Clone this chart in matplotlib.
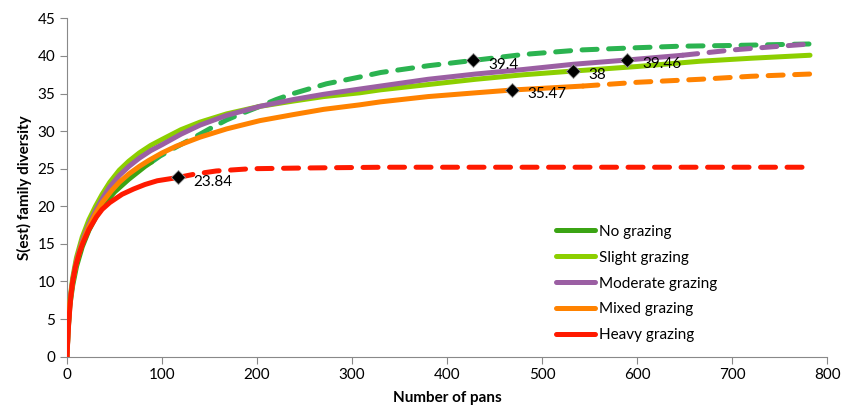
import matplotlib
matplotlib.use("Agg")
import matplotlib.pyplot as plt

plt.rcParams['font.family'] = ['Lato', 'DejaVu Sans']

# No grazing: observed (solid) and extrapolated (dashed)
no_x = [0, 1, 3, 6, 10, 16, 23, 30, 40, 50, 65, 82, 89]
no_y = [0, 3.1, 6.8, 9.5, 12.0, 14.6, 16.8, 18.5, 20.4, 21.9, 23.6, 25.3, 25.9]
no_ext_x = [89, 98, 115, 133, 150, 168, 185, 203, 220, 238, 273, 308, 330, 380, 427, 480, 540, 600, 645, 700, 782]
no_ext_y = [25.9, 26.7, 27.9, 29.1, 30.3, 31.5, 32.4, 33.3, 34.2, 35.0, 36.3, 37.2, 37.8, 38.7, 39.4, 40.2, 40.8, 41.1, 41.3, 41.4, 41.6]

# Slight grazing
sl_x = [0, 1, 3, 6, 10, 16, 23, 30, 37, 45, 55, 65, 76, 88, 100, 120, 140, 168, 203, 238, 270, 308, 330,
        380, 430, 480, 533, 600, 666, 720, 782]
sl_y = [0, 3.5, 7.5, 10.5, 13.2, 15.9, 18.2, 20.0, 21.6, 23.2, 24.8, 26.0, 27.1, 28.1, 28.9, 30.2, 31.2, 32.3,
        33.3, 34.0, 34.6, 35.1, 35.5, 36.2, 36.9, 37.5, 38.0, 38.6, 39.3, 39.7, 40.1]

# Moderate grazing
mo_x = [0, 1, 3, 6, 10, 16, 23, 30, 37, 45, 55, 65, 76, 88, 100, 120, 140, 168, 203, 238, 270, 308, 330,
        380, 430, 480, 533, 589, 648]
mo_y = [0, 3.3, 7.2, 10.2, 12.8, 15.4, 17.6, 19.4, 21.0, 22.6, 24.1, 25.3, 26.4, 27.4, 28.2, 29.6, 30.8, 32.1,
        33.3, 34.2, 34.9, 35.6, 36.0, 36.9, 37.6, 38.2, 38.9, 39.46, 40.1]
mo_ext_x = [648, 700, 740, 782]
mo_ext_y = [40.1, 40.8, 41.2, 41.6]

# Mixed grazing
mi_x = [0, 1, 3, 6, 10, 16, 23, 30, 37, 47, 55, 65, 76, 86, 100, 115, 140, 168, 203, 238, 270, 308, 330,
        380, 430, 468, 543]
mi_y = [0, 3.3, 7.2, 10.0, 12.6, 15.1, 17.3, 19.0, 20.5, 22.1, 23.2, 24.3, 25.3, 26.1, 27.1, 28.0, 29.2, 30.3,
        31.4, 32.2, 32.9, 33.5, 33.9, 34.6, 35.1, 35.47, 36.0]
mi_ext_x = [543, 600, 666, 720, 782]
mi_ext_y = [36.0, 36.5, 36.9, 37.3, 37.6]

# Heavy grazing
he_x = [0, 1, 2, 4, 6, 9, 13, 17, 23, 31, 37, 45, 58, 70, 82, 95, 117]
he_y = [0, 2.8, 4.9, 8.0, 10.0, 12.0, 13.8, 15.2, 16.9, 18.6, 19.6, 20.5, 21.6, 22.3, 22.9, 23.4, 23.84]
he_ext_x = [117, 135, 157, 193, 250, 333, 450, 600, 782]
he_ext_y = [23.84, 24.3, 24.7, 25.0, 25.1, 25.2, 25.2, 25.2, 25.2]

# labelled points
mark_x = [427, 533, 589, 468, 117]
mark_y = [39.4, 38, 39.46, 35.47, 23.84]
mark_txt = ["39.4", "38", "39.46", "35.47", "23.84"]

fig = plt.figure(figsize=(8.44, 4.09), dpi=100)
ax = fig.add_axes([0.0794, 0.128, 0.9006, 0.827])

lw = 3.6
dash = (0, (3, 2.3))
c_no, c_no2 = "#3ba414", "#2bb350"
c_sl, c_mo, c_mi, c_he = "#8ccf00", "#9b5fa3", "#ff8200", "#ff1a00"

ax.plot(no_ext_x, no_ext_y, color=c_no2, lw=lw, ls=dash, dash_capstyle='round', zorder=2)
ax.plot(mo_ext_x, mo_ext_y, color=c_mo, lw=lw, ls=dash, dash_capstyle='round', zorder=2)
ax.plot(mi_ext_x, mi_ext_y, color=c_mi, lw=lw, ls=dash, dash_capstyle='round', zorder=2)
ax.plot(he_ext_x, he_ext_y, color=c_he, lw=lw, ls=dash, dash_capstyle='round', zorder=2)

ax.plot(no_x, no_y, color=c_no, lw=lw, label="No grazing", solid_capstyle='round', zorder=3)
ax.plot(sl_x, sl_y, color=c_sl, lw=lw, label="Slight grazing", solid_capstyle='round', zorder=3)
ax.plot(mo_x, mo_y, color=c_mo, lw=lw, label="Moderate grazing", solid_capstyle='round', zorder=3)
ax.plot(mi_x, mi_y, color=c_mi, lw=lw, label="Mixed grazing", solid_capstyle='round', zorder=3)
ax.plot(he_x, he_y, color=c_he, lw=lw, label="Heavy grazing", solid_capstyle='round', zorder=3)

ax.plot(mark_x, mark_y, ls='none', marker='D', ms=7.5, mfc='black', mec='#999999', mew=0.6, zorder=5)
for x, y, t in zip(mark_x, mark_y, mark_txt):
    ax.annotate(t, (x, y), xytext=(11, -3), textcoords='offset points', va='center', ha='left', fontsize=11)

ax.set_xlim(0, 800)
ax.set_ylim(0, 45)
ax.set_xticks(range(0, 801, 100))
ax.set_yticks(range(0, 46, 5))
for s in ['top', 'right']:
    ax.spines[s].set_visible(False)
for s in ['left', 'bottom']:
    ax.spines[s].set_color('#898989')
ax.tick_params(direction='out', length=5, color='#898989', labelsize=11)
ax.set_xlabel("Number of pans", fontsize=11, fontweight='bold', labelpad=6)
ax.set_ylabel("S(est) family diversity", fontsize=11, fontweight='bold', labelpad=4)

ax.legend(loc='upper left', bbox_to_anchor=(0.643, 0.39), frameon=False, fontsize=11,
          handlelength=2.6, handletextpad=0.2, labelspacing=0.78, borderpad=0, borderaxespad=0)

fig.savefig("out.png", dpi=100)
